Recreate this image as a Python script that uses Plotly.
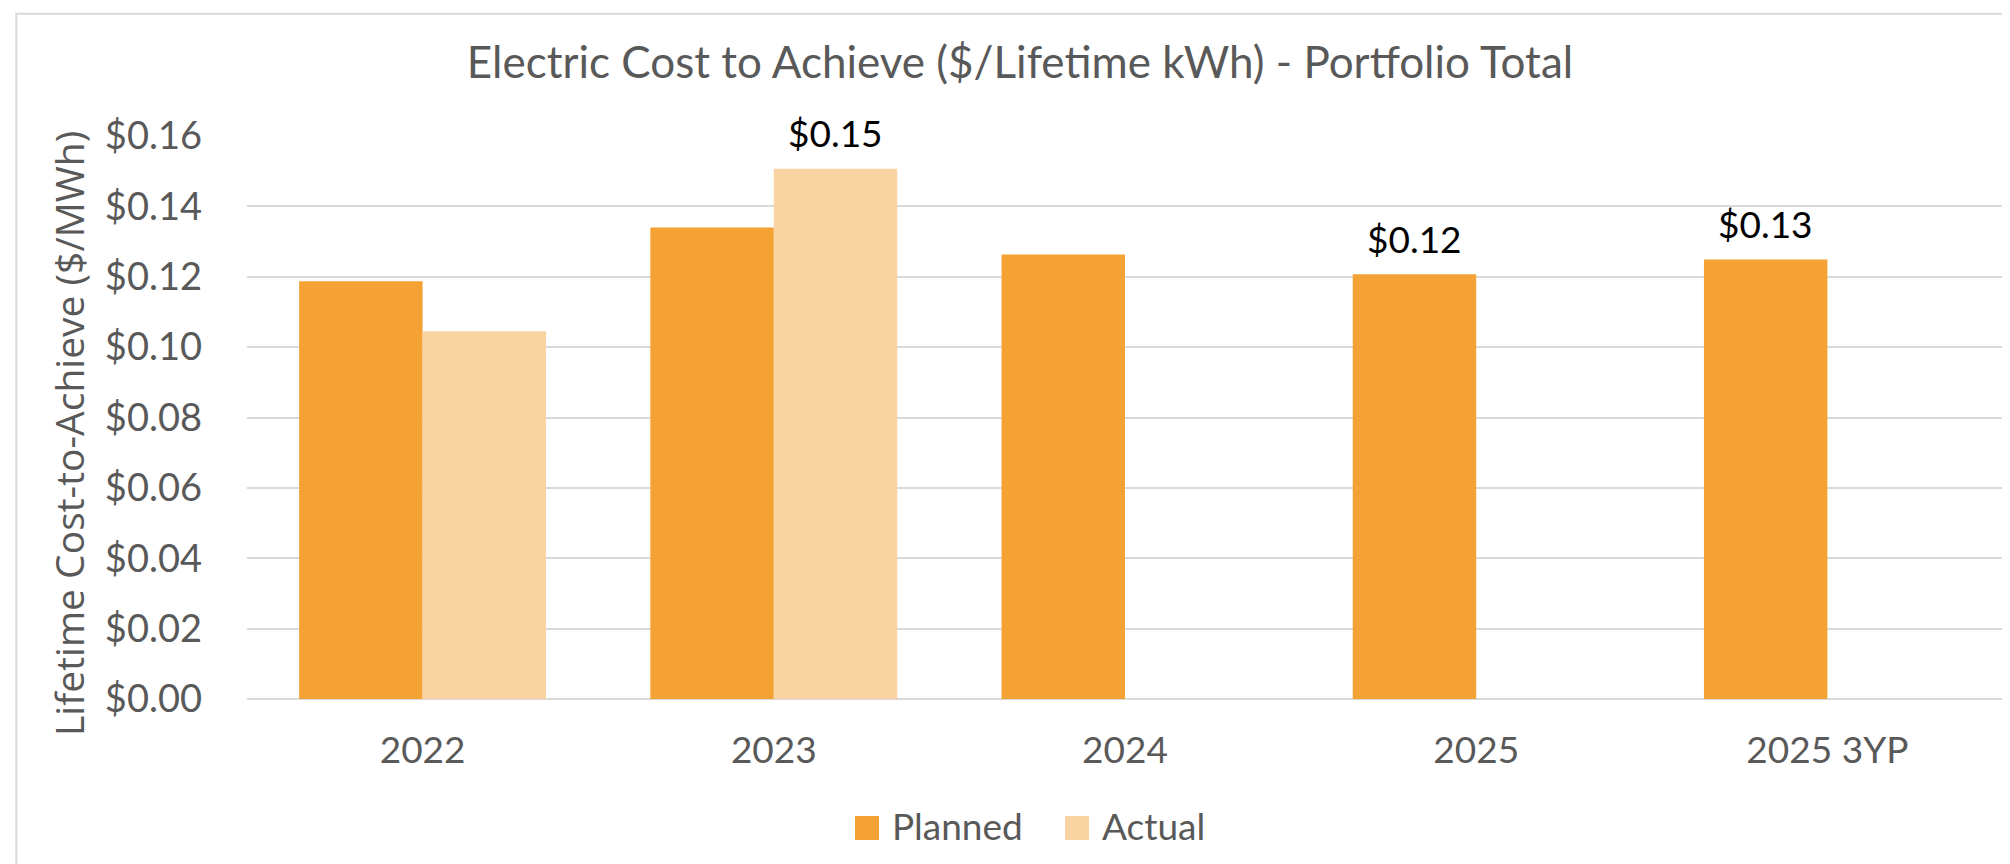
import plotly.graph_objects as go

categories = ["2022", "2023", "2024", "2025", "2025 3YP"]
planned = [0.1187, 0.1340, 0.1263, 0.1207, 0.1249]
actual = [0.1045, 0.1507, None, None, None]
planned_labels = ["", "", "", "$0.12", "$0.13"]
actual_labels = ["", "$0.15", "", "", ""]
y_ticks = [0.00, 0.02, 0.04, 0.06, 0.08, 0.10, 0.12, 0.14, 0.16]
y_tick_text = ["$%.2f" % v for v in y_ticks]

PLANNED_COLOR = "#F4A233"
ACTUAL_COLOR = "#F9D3A1"
GREY_TEXT = "#595959"
GRID = "#D9D9D9"

W, H = 2010, 864
L, R, T, B = 239, 15, 128, 173
PW, PH = W - L - R, H - T - B


def px_x(x):
    return (x - L) / PW


def px_y(y):
    return (H - B - y) / PH


xpos = list(range(len(categories)))

fig = go.Figure()
fig.add_trace(go.Bar(name="Planned", x=xpos, y=planned, marker_color=PLANNED_COLOR,
                     marker_line_width=0, showlegend=False))
fig.add_trace(go.Bar(name="Actual", x=xpos, y=actual, marker_color=ACTUAL_COLOR,
                     marker_line_width=0, showlegend=False))

annotations = []
BARGAP = 0.297
half = (1 - BARGAP) / 4  # half of one bar's width, in category units
for labels, vals, shift in ((planned_labels, planned, -half), (actual_labels, actual, half)):
    for i, (t, v) in enumerate(zip(labels, vals)):
        if t:
            annotations.append(dict(x=i + shift, y=v, xref="x", yref="y", text=t, showarrow=False,
                                    yshift=36, yanchor="middle", xanchor="center",
                                    font=dict(family="Lato", size=37, color="black")))

# y axis title
annotations.append(dict(x=px_x(60), y=px_y(426), xref="paper", yref="paper",
                        text="Lifetime Cost-to-Achieve ($/MWh)", textangle=-90, showarrow=False,
                        xanchor="center", yanchor="middle",
                        font=dict(family="Open Sans", size=39, color=GREY_TEXT)))

# legend (manual)
legend_items = [("Planned", PLANNED_COLOR, 847), ("Actual", ACTUAL_COLOR, 1057)]
shapes = []
for name, col, x0 in legend_items:
    shapes.append(dict(type="rect", xref="paper", yref="paper", x0=px_x(x0), x1=px_x(x0 + 24),
                       y0=px_y(832), y1=px_y(808), fillcolor=col, line_width=0))
    annotations.append(dict(x=px_x(x0 + 35), y=px_y(817), xref="paper", yref="paper", text=name,
                            showarrow=False, xanchor="left", yanchor="middle",
                            font=dict(family="Lato", size=37, color=GREY_TEXT)))

# outer chart frame
shapes.append(dict(type="rect", xref="paper", yref="paper", x0=px_x(8.3), x1=px_x(2030),
                   y0=px_y(900), y1=px_y(5.7), line=dict(color=GRID, width=2), fillcolor="rgba(0,0,0,0)"))

fig.update_layout(
    width=W, height=H,
    margin=dict(l=L, r=R, t=T, b=B, pad=0),
    paper_bgcolor="white", plot_bgcolor="white",
    barmode="group", bargap=BARGAP, bargroupgap=0,
    title=dict(text="Electric Cost to Achieve ($/Lifetime kWh) - Portfolio Total",
               x=1012 / W, xref="container", xanchor="center",
               y=1 - 55 / H, yref="container", yanchor="middle",
               font=dict(family="Lato", size=44, color=GREY_TEXT)),
    xaxis=dict(range=[-0.5, len(categories) - 0.5], tickvals=xpos, ticktext=categories,
               showgrid=False, showline=False, zeroline=False, ticks="",
               tickfont=dict(family="Lato", size=37, color=GREY_TEXT), ticklabelstandoff=26),
    yaxis=dict(range=[0, 0.16], tickvals=y_ticks, ticktext=y_tick_text, showgrid=True,
               gridcolor=GRID, gridwidth=2, zeroline=True, zerolinecolor=GRID, zerolinewidth=2,
               showline=False, ticks="", tickfont=dict(family="Lato", size=38, color=GREY_TEXT),
               ticklabelstandoff=44),
    annotations=annotations,
    shapes=shapes,
    showlegend=False,
)

fig.write_html("out.html")
